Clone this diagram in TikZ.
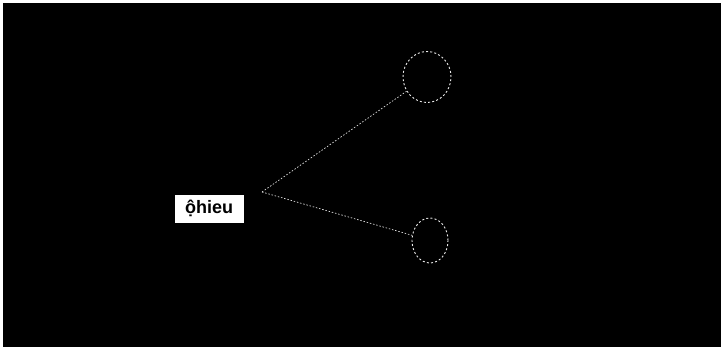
\documentclass[tikz,border=0pt]{standalone}
\usepackage{fontspec}
\setmainfont{Liberation Sans}
\usetikzlibrary{shapes.geometric}
\begin{document}
\begin{tikzpicture}[x=1pt,y=-1pt,
  link/.style={draw=white!75!gray, line width=0.7pt, dash pattern=on 1.5pt off 1.8pt},
  ring/.style={ellipse, draw=white!85!gray, line width=0.9pt, dash pattern=on 2pt off 2.2pt, inner sep=0pt},
  tag/.style={fill=white, draw=white, inner sep=0pt, minimum width=68pt, minimum height=27pt, font=\bfseries\fontsize{18pt}{20pt}\selectfont, text=black}]
  \useasboundingbox (0,0) rectangle (722,350);
  \fill[white] (0,0) rectangle (722,350);
  \fill[black] (3,3) rectangle (721,347);
  \node[tag] (lbl) at (209,208.5) {ộhieu};
  \coordinate (hub) at (262,192);
  \node[ring, minimum width=48pt, minimum height=51pt] (c1) at (427,77) {};
  \node[ring, minimum width=36pt, minimum height=45pt] (c2) at (430,240.5) {};
  \draw[link] (hub) -- (c1);
  \draw[link] (hub) -- (c2);
\end{tikzpicture}
\end{document}
